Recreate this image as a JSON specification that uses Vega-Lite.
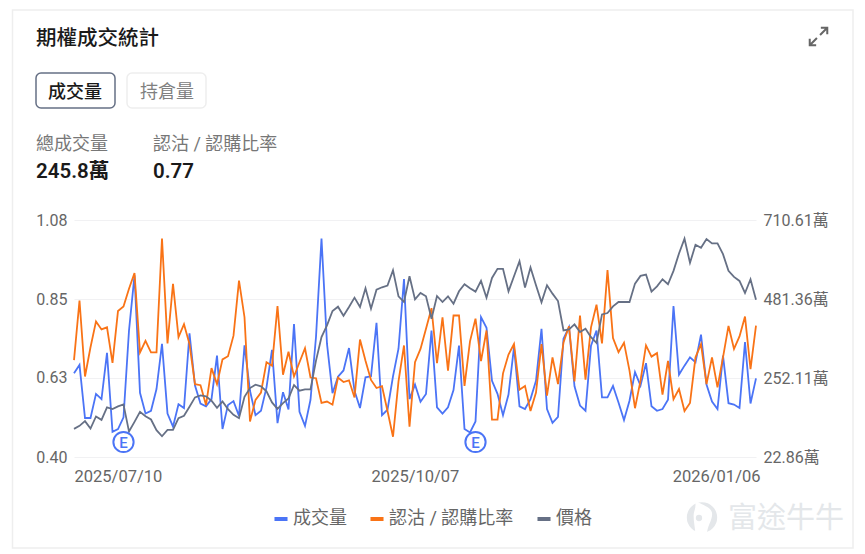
{
"$schema":"https://vega.github.io/schema/vega-lite/v6.json",
"width":682,"height":237,
"autosize":{"type":"none"},
"padding":{"left":74,"top":220,"right":109,"bottom":97},
"background":"#ffffff",
"config":{"font":"Roboto, 'Noto Sans CJK TC', sans-serif","view":{"stroke":null}},
"data":{"values":[
{"date":"2025/07/10","volume":266,"ratio":0.678,"price":8.4},{"date":"2025/07/11","volume":290,"ratio":0.849,"price":9.3},{"date":"2025/07/14","volume":136,"ratio":0.631,"price":10.7},{"date":"2025/07/15","volume":136,"ratio":0.715,"price":8.5},{"date":"2025/07/16","volume":206,"ratio":0.789,"price":12.1},{"date":"2025/07/17","volume":191,"ratio":0.766,"price":11.1},{"date":"2025/07/18","volume":325,"ratio":0.772,"price":14.8},{"date":"2025/07/21","volume":96,"ratio":0.670,"price":14.3},{"date":"2025/07/22","volume":104,"ratio":0.819,"price":15.1},{"date":"2025/07/23","volume":138,"ratio":0.832,"price":15.7},
{"date":"2025/07/24","volume":390,"ratio":0.883,"price":7.6},{"date":"2025/07/25","volume":550,"ratio":0.928,"price":10.5},{"date":"2025/07/28","volume":209,"ratio":0.700,"price":13.5},{"date":"2025/07/29","volume":149,"ratio":0.733,"price":12.2},{"date":"2025/07/30","volume":157,"ratio":0.700,"price":11.2},{"date":"2025/07/31","volume":220,"ratio":0.700,"price":8.0},{"date":"2025/08/01","volume":351,"ratio":1.027,"price":6.2},{"date":"2025/08/04","volume":149,"ratio":0.726,"price":8.1},{"date":"2025/08/05","volume":111,"ratio":0.897,"price":8.1},{"date":"2025/08/06","volume":176,"ratio":0.744,"price":11.6},
{"date":"2025/08/07","volume":165,"ratio":0.781,"price":12.3},{"date":"2025/08/08","volume":382,"ratio":0.724,"price":15.0},{"date":"2025/08/11","volume":230,"ratio":0.609,"price":17.8},{"date":"2025/08/12","volume":178,"ratio":0.606,"price":18.4},{"date":"2025/08/13","volume":170,"ratio":0.549,"price":18.1},{"date":"2025/08/14","volume":191,"ratio":0.655,"price":16.8},{"date":"2025/08/15","volume":317,"ratio":0.609,"price":14.7},{"date":"2025/08/18","volume":104,"ratio":0.680,"price":16.6},{"date":"2025/08/19","volume":174,"ratio":0.689,"price":14.3},{"date":"2025/08/20","volume":185,"ratio":0.748,"price":12.6},
{"date":"2025/08/21","volume":142,"ratio":0.906,"price":11.6},{"date":"2025/08/22","volume":347,"ratio":0.801,"price":18.0},{"date":"2025/08/25","volume":215,"ratio":0.502,"price":20.6},{"date":"2025/08/26","volume":144,"ratio":0.564,"price":21.6},{"date":"2025/08/27","volume":157,"ratio":0.585,"price":21.1},{"date":"2025/08/28","volume":225,"ratio":0.672,"price":19.6},{"date":"2025/08/29","volume":334,"ratio":0.662,"price":16.3},{"date":"2025/09/02","volume":121,"ratio":0.833,"price":14.4},{"date":"2025/09/03","volume":211,"ratio":0.636,"price":16.1},{"date":"2025/09/04","volume":161,"ratio":0.702,"price":17.5},
{"date":"2025/09/05","volume":409,"ratio":0.631,"price":21.5},{"date":"2025/09/08","volume":154,"ratio":0.672,"price":19.8},{"date":"2025/09/09","volume":113,"ratio":0.712,"price":20.2},{"date":"2025/09/10","volume":189,"ratio":0.628,"price":20.2},{"date":"2025/09/11","volume":371,"ratio":0.626,"price":28.8},{"date":"2025/09/12","volume":657,"ratio":0.555,"price":35.8},{"date":"2025/09/15","volume":351,"ratio":0.559,"price":39.3},{"date":"2025/09/16","volume":208,"ratio":0.550,"price":43.6},{"date":"2025/09/17","volume":256,"ratio":0.628,"price":44.9},{"date":"2025/09/18","volume":274,"ratio":0.615,"price":42.2},
{"date":"2025/09/19","volume":339,"ratio":0.620,"price":44.8},{"date":"2025/09/22","volume":215,"ratio":0.571,"price":47.6},{"date":"2025/09/23","volume":165,"ratio":0.737,"price":44.8},{"date":"2025/09/24","volume":254,"ratio":0.676,"price":50.4},{"date":"2025/09/25","volume":257,"ratio":0.621,"price":44.3},{"date":"2025/09/26","volume":412,"ratio":0.598,"price":50.0},{"date":"2025/09/29","volume":144,"ratio":0.603,"price":50.7},{"date":"2025/09/30","volume":160,"ratio":0.532,"price":51.2},{"date":"2025/10/01","volume":257,"ratio":0.458,"price":55.8},{"date":"2025/10/02","volume":337,"ratio":0.617,"price":48.0},
{"date":"2025/10/03","volume":539,"ratio":0.720,"price":46.3},{"date":"2025/10/06","volume":191,"ratio":0.487,"price":54.0},{"date":"2025/10/07","volume":233,"ratio":0.672,"price":47.1},{"date":"2025/10/08","volume":183,"ratio":0.710,"price":49.0},{"date":"2025/10/09","volume":206,"ratio":0.768,"price":48.0},{"date":"2025/10/10","volume":390,"ratio":0.827,"price":41.3},{"date":"2025/10/13","volume":167,"ratio":0.669,"price":48.1},{"date":"2025/10/14","volume":149,"ratio":0.801,"price":46.3},{"date":"2025/10/15","volume":167,"ratio":0.648,"price":48.0},{"date":"2025/10/16","volume":217,"ratio":0.806,"price":45.8},
{"date":"2025/10/17","volume":346,"ratio":0.806,"price":49.5},{"date":"2025/10/20","volume":104,"ratio":0.604,"price":51.6},{"date":"2025/10/21","volume":94,"ratio":0.732,"price":50.4},{"date":"2025/10/22","volume":126,"ratio":0.797,"price":49.4},{"date":"2025/10/23","volume":429,"ratio":0.675,"price":52.6},{"date":"2025/10/24","volume":398,"ratio":0.763,"price":47.6},{"date":"2025/10/27","volume":244,"ratio":0.507,"price":53.5},{"date":"2025/10/28","volume":206,"ratio":0.507,"price":56.2},{"date":"2025/10/29","volume":144,"ratio":0.640,"price":56.2},{"date":"2025/10/30","volume":204,"ratio":0.694,"price":49.5},
{"date":"2025/10/31","volume":342,"ratio":0.724,"price":54.0},{"date":"2025/11/03","volume":170,"ratio":0.593,"price":58.5},{"date":"2025/11/04","volume":162,"ratio":0.604,"price":50.6},{"date":"2025/11/05","volume":191,"ratio":0.532,"price":56.6},{"date":"2025/11/06","volume":244,"ratio":0.585,"price":51.3},{"date":"2025/11/07","volume":395,"ratio":0.724,"price":46.2},{"date":"2025/11/10","volume":162,"ratio":0.576,"price":51.3},{"date":"2025/11/11","volume":122,"ratio":0.686,"price":48.8},{"date":"2025/11/12","volume":139,"ratio":0.609,"price":46.6},{"date":"2025/11/13","volume":366,"ratio":0.729,"price":37.8},
{"date":"2025/11/14","volume":400,"ratio":0.775,"price":38.1},{"date":"2025/11/17","volume":228,"ratio":0.617,"price":39.6},{"date":"2025/11/18","volume":172,"ratio":0.806,"price":37.3},{"date":"2025/11/19","volume":157,"ratio":0.622,"price":38.3},{"date":"2025/11/20","volume":346,"ratio":0.772,"price":35.8},{"date":"2025/11/21","volume":390,"ratio":0.837,"price":34.1},{"date":"2025/11/24","volume":196,"ratio":0.726,"price":42.6},{"date":"2025/11/25","volume":196,"ratio":0.936,"price":43.0},{"date":"2025/11/26","volume":229,"ratio":0.741,"price":45.0},{"date":"2025/11/28","volume":181,"ratio":0.701,"price":46.3},
{"date":"2025/12/01","volume":130,"ratio":0.728,"price":46.3},{"date":"2025/12/02","volume":186,"ratio":0.648,"price":46.3},{"date":"2025/12/03","volume":269,"ratio":0.540,"price":51.8},{"date":"2025/12/04","volume":230,"ratio":0.619,"price":54.1},{"date":"2025/12/05","volume":295,"ratio":0.720,"price":54.5},{"date":"2025/12/08","volume":170,"ratio":0.688,"price":49.4},{"date":"2025/12/09","volume":157,"ratio":0.698,"price":51.0},{"date":"2025/12/10","volume":162,"ratio":0.579,"price":53.1},{"date":"2025/12/11","volume":189,"ratio":0.676,"price":51.6},{"date":"2025/12/12","volume":461,"ratio":0.566,"price":55.6},
{"date":"2025/12/15","volume":262,"ratio":0.595,"price":60.8},{"date":"2025/12/16","volume":288,"ratio":0.532,"price":65.2},{"date":"2025/12/17","volume":312,"ratio":0.555,"price":58.0},{"date":"2025/12/18","volume":298,"ratio":0.686,"price":63.4},{"date":"2025/12/19","volume":378,"ratio":0.724,"price":62.5},{"date":"2025/12/22","volume":233,"ratio":0.609,"price":65.1},{"date":"2025/12/23","volume":184,"ratio":0.686,"price":63.8},{"date":"2025/12/24","volume":162,"ratio":0.600,"price":63.8},{"date":"2025/12/26","volume":317,"ratio":0.686,"price":60.6},{"date":"2025/12/29","volume":179,"ratio":0.776,"price":55.6},
{"date":"2025/12/30","volume":175,"ratio":0.710,"price":53.8},{"date":"2025/12/31","volume":165,"ratio":0.746,"price":52.6},{"date":"2026/01/02","volume":356,"ratio":0.803,"price":49.0},{"date":"2026/01/05","volume":178,"ratio":0.652,"price":53.1},{"date":"2026/01/06","volume":251,"ratio":0.777,"price":47.0}
]},
"encoding":{"x":{"field":"date","type":"ordinal","scale":{"type":"point","padding":0},
    "axis":{"title":null,"orient":"bottom","values":["2025/07/10","2025/10/07","2026/01/06"],"domain":false,"ticks":false,"grid":false,"labelFontSize":16.5,"labelColor":"#666666","labelPadding":11,"labelAngle":0,"labelBound":false,"labelOverlap":false,"labelFlush":false,
      "labelOffset":{"condition":{"test":"datum.value == '2026/01/06'","value":4},"value":0},
      "labelAlign":{"condition":[{"test":"datum.value == '2025/07/10'","value":"left"},{"test":"datum.value == '2026/01/06'","value":"right"}],"value":"center"}}}},
"layer":[
{"mark":{"type":"line","stroke":"#4b74f6","strokeWidth":1.8,"interpolate":"linear","clip":false},
 "encoding":{
  "y":{"field":"volume","type":"quantitative","scale":{"domain":[22.86,710.61],"nice":false,"zero":false},
    "axis":{"title":null,"orient":"right","values":[22.86,252.11,481.36,710.61],"domain":false,"ticks":false,"grid":false,"labelFontSize":16,"labelColor":"#666666","labelPadding":7,"labelExpr":"format(datum.value,'.2f')+'萬'"}},
  "color":{"datum":"成交量","scale":{"domain":["成交量","認沽 / 認購比率","價格"],"range":["#4b74f6","#f97316","#667085"]},
    "legend":{"title":null,"orient":"none","legendX":198,"legendY":290,"direction":"horizontal","columns":3,"symbolType":"stroke","symbolStrokeWidth":4,"symbolSize":170,"labelFontSize":18,"labelColor":"#666666","labelOffset":3,"columnPadding":15,"symbolOpacity":1,"labelLimit":300}}}},
{"mark":{"type":"line","stroke":"#f97316","strokeWidth":1.8,"interpolate":"linear"},
 "encoding":{
  "y":{"field":"ratio","type":"quantitative","scale":{"domain":[0.40,1.08],"nice":false,"zero":false},
    "axis":{"title":null,"orient":"left","values":[0.40,0.6267,0.8533,1.08],"format":".2f","domain":false,"ticks":false,"grid":true,"gridColor":"#f1f1f3","gridWidth":1,"labelFontSize":16,"labelColor":"#666666","labelPadding":7}},
  "color":{"datum":"認沽 / 認購比率"}}},
{"mark":{"type":"line","stroke":"#667085","strokeWidth":1.8,"interpolate":"linear"},
 "encoding":{
  "y":{"field":"price","type":"quantitative","scale":{"domain":[0,70.8],"nice":false,"zero":false},"axis":null},
  "color":{"datum":"價格"}}},
{"data":{"values":[{"date":"2025/07/23","label":"E"},{"date":"2025/10/22","label":"E"}]},
 "mark":{"type":"point","shape":"circle","size":410,"fill":"#ffffff","stroke":"#4b74f6","strokeWidth":2,"opacity":1,"filled":false,"fillOpacity":1},
 "encoding":{"y":{"value":222}}},
{"data":{"values":[{"date":"2025/07/23","label":"E"},{"date":"2025/10/22","label":"E"}]},
 "mark":{"type":"text","fontSize":15,"fontWeight":500,"color":"#4b74f6","align":"center","baseline":"middle"},
 "encoding":{"y":{"value":222.5},"text":{"field":"label"}}},
{"data":{"values":[{"t":"card"}]},"mark":{"type":"rect","fill":"transparent","stroke":"#eeeeee","strokeWidth":1.5,"x":-61.5,"x2":779,"y":-210,"y2":328},"encoding":{"x":null}},
{"data":{"values":[{"t":"成交量"}]},"mark":{"type":"rect","fill":"transparent","stroke":"#667085","strokeWidth":1.5,"cornerRadius":5,"x":-38,"x2":41,"y":-147,"y2":-112},"encoding":{"x":null}},
{"data":{"values":[{"t":"持倉量"}]},"mark":{"type":"rect","fill":"transparent","stroke":"#eeeeee","strokeWidth":1.5,"cornerRadius":5,"x":53,"x2":132,"y":-147,"y2":-112},"encoding":{"x":null}},
{"data":{"values":[{"t":"期權成交統計"}]},"mark":{"type":"text","fontSize":20.5,"fontWeight":500,"color":"#1a1a1a","align":"left","baseline":"middle","x":-38,"y":-181},"encoding":{"x":null,"text":{"field":"t"}}},
{"data":{"values":[{"t":"成交量"}]},"mark":{"type":"text","fontSize":18,"fontWeight":500,"color":"#1a1a1a","align":"center","baseline":"middle","x":1,"y":-127},"encoding":{"x":null,"text":{"field":"t"}}},
{"data":{"values":[{"t":"持倉量"}]},"mark":{"type":"text","fontSize":18,"color":"#808080","align":"center","baseline":"middle","x":93,"y":-127},"encoding":{"x":null,"text":{"field":"t"}}},
{"data":{"values":[{"t":"總成交量"}]},"mark":{"type":"text","fontSize":18,"color":"#777777","align":"left","baseline":"middle","x":-38,"y":-75},"encoding":{"x":null,"text":{"field":"t"}}},
{"data":{"values":[{"t":"認沽 / 認購比率"}]},"mark":{"type":"text","fontSize":18,"color":"#777777","align":"left","baseline":"middle","x":79,"y":-75},"encoding":{"x":null,"text":{"field":"t"}}},
{"data":{"values":[{"t":"245.8萬"}]},"mark":{"type":"text","fontSize":20.5,"fontWeight":600,"color":"#1a1a1a","align":"left","baseline":"middle","x":-38,"y":-48},"encoding":{"x":null,"text":{"field":"t"}}},
{"data":{"values":[{"t":"0.77"}]},"mark":{"type":"text","fontSize":20.5,"fontWeight":600,"color":"#1a1a1a","align":"left","baseline":"middle","x":79,"y":-48},"encoding":{"x":null,"text":{"field":"t"}}},
{"data":{"values":[{"t":"富途牛牛"}]},"mark":{"type":"text","fontSize":29,"color":"#e4e7ea","align":"left","baseline":"middle","x":654,"y":299},"encoding":{"x":null,"text":{"field":"t"}}},
{"data":{"values":[{"t":"logo"}]},"mark":{"type":"point","shape":"circle","size":920,"filled":true,"fill":"#e4e7ea","opacity":1,"x":628,"y":297.5},"encoding":{"x":null}},
{"data":{"values":[{"t":"logo-swoosh"}]},"mark":{"type":"point","shape":"M-0.21,-0.5 C0,-0.35 0.29,-0.3 0.29,-0.1 C0.29,0.1 0.14,0.25 0.14,0.5 L-0.19,0.5 C-0.19,0.3 -0.24,0.15 -0.24,-0.05 C-0.24,-0.2 -0.14,-0.3 -0.21,-0.5 Z","size":4900,"filled":true,"fill":"#ffffff","opacity":1,"x":628,"y":297.5},"encoding":{"x":null}},
{"data":{"values":[{"t":"logo-dot"}]},"mark":{"type":"point","shape":"circle","size":40,"filled":true,"fill":"#e4e7ea","opacity":1,"x":625,"y":298},"encoding":{"x":null}},
{"data":{"values":[{"t":"expand"}]},"mark":{"type":"point","shape":"M0.08,-0.08 L0.45,-0.45 M0.12,-0.45 L0.45,-0.45 L0.45,-0.12 M-0.08,0.08 L-0.45,0.45 M-0.12,0.45 L-0.45,0.45 L-0.45,0.12","size":1520,"filled":false,"fill":"transparent","stroke":"#666666","strokeWidth":2,"opacity":1,"x":744.5,"y":-183.5},"encoding":{"x":null}}
],
"resolve":{"scale":{"y":"independent"},"axis":{"y":"independent"}}
}
